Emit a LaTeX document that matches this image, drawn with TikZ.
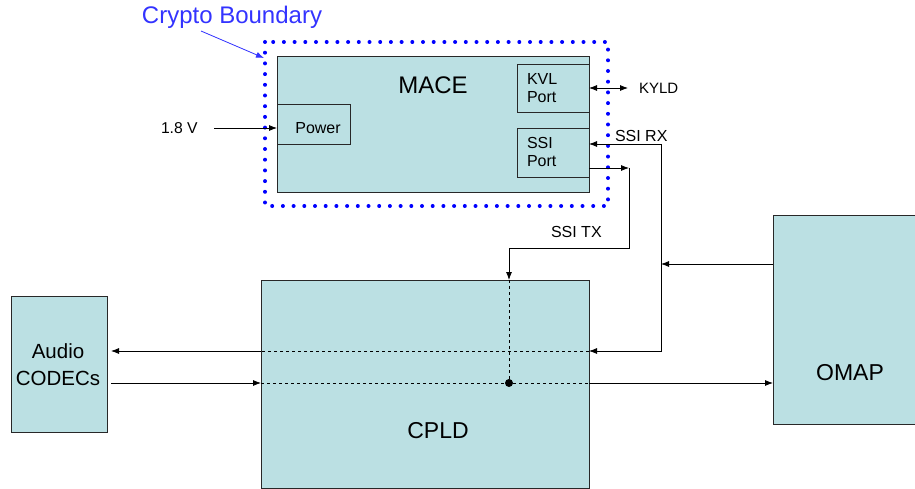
\documentclass[tikz,border=0pt]{standalone}
\usepackage{fontspec}
\setmainfont{Liberation Sans}
\usetikzlibrary{arrows.meta}
\definecolor{boxfill}{RGB}{187,224,227}
\definecolor{boxline}{RGB}{40,40,40}
\definecolor{cryptoblue}{RGB}{51,51,255}
\definecolor{dotblue}{RGB}{0,0,255}
\begin{document}
\begin{tikzpicture}[x=1pt,y=-1pt,
  blk/.style={draw=boxline,fill=boxfill,line width=0.8pt,inner sep=0pt,outer sep=0pt,anchor=north west},
  lbl/.style={inner sep=0pt,outer sep=0pt,text=black},
  small/.style={font=\fontsize{16}{18}\selectfont},
  conn/.style={line width=0.8pt,draw=black},
  tip/.style={-{Latex[length=8pt,width=6pt]}},
  dsh/.style={line width=0.8pt,dash pattern=on 3pt off 3pt}
]
\useasboundingbox (0,0) rectangle (915,489);
% blocks
\node[blk,minimum width=312pt,minimum height=136pt] (mace) at (277,56) {};
\node[blk,minimum width=73pt,minimum height=40pt] (power) at (277,104) {};
\node[blk,minimum width=72pt,minimum height=48pt] (kvl) at (517,64) {};
\node[blk,minimum width=72pt,minimum height=49pt] (ssi) at (517,128) {};
\node[blk,minimum width=328pt,minimum height=208pt] (cpld) at (261,280) {};
\node[blk,minimum width=96pt,minimum height=136pt] (audio) at (11,296) {};
\node[blk,minimum width=145pt,minimum height=209pt] (omap) at (773,215) {};
% crypto boundary
\draw[dotblue,line width=4pt,line cap=round,dash pattern=on 0pt off 10.7pt] (265,42) rectangle (608,206);
\node[lbl,text=cryptoblue,font=\fontsize{24}{27}\selectfont] (crypto) at (232,17) {Crypto Boundary};
\coordinate (crypA) at (201,31);
\coordinate (crypB) at (264,58);
\draw[cryptoblue,line width=0.8pt,-{Latex[length=8pt,width=6pt]}] (crypA) -- (crypB);
% labels
\node[lbl,font=\fontsize{24}{28}\selectfont] (macel) at (433,85) {MACE};
\node[lbl,font=\fontsize{16}{18}\selectfont] (powerl) at (318,128) {Power};
\node[lbl,small,align=left,anchor=west] (kvll) at (527,88) {KVL\\Port};
\node[lbl,small,align=left,anchor=west] (ssil) at (527,152) {SSI\\Port};
\node[lbl,font=\fontsize{23}{28}\selectfont] (cpldl) at (438,431) {CPLD};
\node[lbl,font=\fontsize{20.5}{27}\selectfont,align=center] (audiol) at (58,365) {Audio\\CODECs};
\node[lbl,font=\fontsize{23}{28}\selectfont] (omapl) at (850,373) {OMAP};
\node[lbl,font=\fontsize{15.7}{18}\selectfont,anchor=west] (v18) at (161,128) {1.8 V};
\node[lbl,font=\fontsize{15}{18}\selectfont,anchor=west] (kyld) at (639,88) {KYLD};
\node[lbl,small,anchor=west] (ssirx) at (615,136) {SSI RX};
\node[lbl,small,anchor=west] (ssitx) at (551,232) {SSI TX};
% coordinates
\coordinate (vin) at (214,128);
\coordinate (kyldend) at (628,88);
\coordinate (rxt) at (661,144);
\coordinate (rxb) at (661,351);
\coordinate (junc) at (661,264);
\coordinate (txa) at (629,168);
\coordinate (txb) at (629,248);
\coordinate (txc) at (509,248);
\coordinate (ya) at (0,351);
\coordinate (yb) at (0,383);
\coordinate (dotc) at (509,383);
% connectors
\draw[conn,tip] (vin) -- (power.west|-vin);
\draw[conn,{Latex[length=8pt,width=6pt]}-{Latex[length=8pt,width=6pt]}] (kvl.east) -- (kyldend);
\draw[conn,{Latex[length=8pt,width=6pt]}-{Latex[length=8pt,width=6pt]}] (ssi.east|-rxt) -- (rxt) -- (rxb) -- (cpld.east|-rxb);
\draw[conn,tip] (omap.west|-junc) -- (junc);
\draw[conn,tip] (ssi.east|-txa) -- (txa);
\draw[conn,tip] (txa) -- (txb) -- (txc) -- (txc|-cpld.north);
\draw[dsh] (cpld.east|-ya) -- (cpld.west|-ya);
\draw[conn,tip,shorten >=4pt] (cpld.west|-ya) -- (audio.east|-ya);
\draw[conn,tip,shorten <=4pt] (audio.east|-yb) -- (cpld.west|-yb);
\draw[dsh] (cpld.west|-yb) -- (cpld.east|-yb);
\draw[dsh] (txc|-cpld.north) -- (dotc);
\fill (dotc) circle (4pt);
\draw[conn,tip] (cpld.east|-yb) -- (omap.west|-yb);
\end{tikzpicture}
\end{document}
